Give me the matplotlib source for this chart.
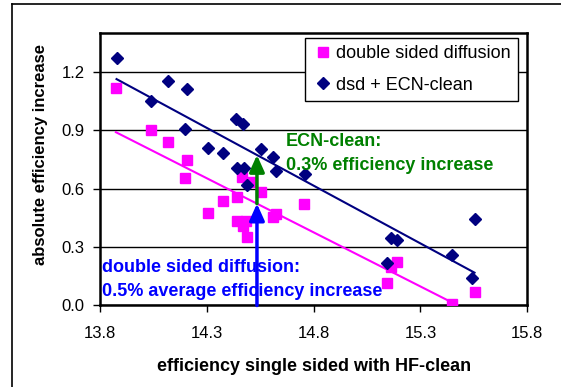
import numpy as np
import matplotlib
matplotlib.use("Agg")
import matplotlib.pyplot as plt
from matplotlib.lines import Line2D

plt.rcParams['font.family'] = ['Liberation Sans', 'DejaVu Sans']

# double sided diffusion (magenta squares)
dsd_x = [13.875, 14.037, 14.117, 14.206, 14.198, 14.304, 14.374, 14.440, 14.440, 14.482,
         14.471, 14.487, 14.464, 14.514, 14.555, 14.609, 14.624, 14.755, 15.190, 15.164,
         15.142, 15.448, 15.553]
dsd_y = [1.117, 0.900, 0.840, 0.748, 0.652, 0.473, 0.536, 0.558, 0.435, 0.435,
         0.409, 0.353, 0.660, 0.632, 0.581, 0.455, 0.469, 0.519, 0.225, 0.199,
         0.114, 0.006, 0.068]

# dsd + ECN-clean (navy diamonds)
ecn_x = [13.878, 14.037, 14.117, 14.206, 14.198, 14.304, 14.374, 14.437, 14.468, 14.552,
         14.440, 14.476, 14.487, 14.612, 14.624, 14.760, 15.161, 15.192, 15.142, 15.449,
         15.553, 15.541]
ecn_y = [1.268, 1.050, 1.150, 1.109, 0.907, 0.809, 0.784, 0.956, 0.931, 0.804,
         0.703, 0.703, 0.618, 0.760, 0.691, 0.674, 0.348, 0.336, 0.216, 0.259,
         0.445, 0.139]

arrow_x = 14.535

fig = plt.figure(figsize=(5.61, 3.87), dpi=100)
ax = fig.add_axes([0.178, 0.2106, 0.762, 0.705])

# trend lines
p_dsd = np.polyfit(dsd_x, dsd_y, 1)
p_ecn = np.polyfit(ecn_x, ecn_y, 1)
xx_dsd = np.array([min(dsd_x), max(dsd_x)])
xx_ecn = np.array([min(ecn_x), max(ecn_x)])
ax.plot(xx_dsd, np.polyval(p_dsd, xx_dsd), color='#ff00ff', lw=1.5, zorder=3)
ax.plot(xx_ecn, np.polyval(p_ecn, xx_ecn), color='#000080', lw=1.5, zorder=3)

ax.plot(dsd_x, dsd_y, 's', color='#ff00ff', ms=6.5, mec='#ff00ff', ls='none',
        label='double sided diffusion', zorder=4)
ax.plot(ecn_x, ecn_y, 'D', color='#000080', ms=6, mec='#000080', ls='none',
        label='dsd + ECN-clean', zorder=4)

y_dsd = np.polyval(p_dsd, arrow_x)
y_ecn = np.polyval(p_ecn, arrow_x)
ax.annotate('', xy=(arrow_x, y_dsd), xytext=(arrow_x, 0),
            arrowprops=dict(arrowstyle='-|>,head_width=0.45,head_length=1.0',
                            color='#0000ff', lw=2.5, shrinkA=0, shrinkB=0), zorder=6)
ax.annotate('', xy=(arrow_x, y_ecn), xytext=(arrow_x, y_dsd),
            arrowprops=dict(arrowstyle='-|>,head_width=0.45,head_length=1.0',
                            color='#008000', lw=2.5, shrinkA=0, shrinkB=0), zorder=6)

ax.text(14.671, 0.8195, 'ECN-clean:', color='#008000', fontsize=13,
        fontweight='bold', va='baseline', ha='left', zorder=5)
ax.text(14.671, 0.695, '0.3% efficiency increase', color='#008000', fontsize=13,
        fontweight='bold', va='baseline', ha='left', zorder=5)
ax.text(13.811, 0.1733, 'double sided diffusion:', color='#0000ff', fontsize=13,
        fontweight='bold', va='baseline', ha='left', zorder=5)
ax.text(13.811, 0.0487, '0.5% average efficiency increase', color='#0000ff', fontsize=13,
        fontweight='bold', va='baseline', ha='left', zorder=5)

ax.set_xlim(13.8, 15.8)
ax.set_ylim(0, 1.4)
ax.set_xticks([13.8, 14.3, 14.8, 15.3, 15.8])
ax.set_yticks([0.0, 0.3, 0.6, 0.9, 1.2])
ax.xaxis.set_major_formatter(matplotlib.ticker.FormatStrFormatter('%.1f'))
ax.yaxis.set_major_formatter(matplotlib.ticker.FormatStrFormatter('%.1f'))
ax.tick_params(direction='out', length=5, width=1, labelsize=12, colors='black', pad=6)
ax.tick_params(axis='x', pad=10)
ax.grid(axis='y', color='black', lw=1)
ax.set_axisbelow(True)
for s in ax.spines.values():
    s.set_linewidth(1.8)

ax.set_xlabel('efficiency single sided with HF-clean', fontsize=13, fontweight='bold', labelpad=12)
ax.set_ylabel('absolute efficiency increase', fontsize=12, fontweight='bold')
ax.yaxis.set_label_coords(-0.122, 0.555)

leg = ax.legend(loc='upper right', bbox_to_anchor=(0.978, 0.9806), borderaxespad=0,
                fontsize=13, frameon=True, fancybox=False, edgecolor='black', framealpha=1,
                handletextpad=0.1, handlelength=1.2, borderpad=0.4, labelspacing=0.8)
leg.get_frame().set_linewidth(1)

# outer chart border (left and top visible)
fig.add_artist(Line2D([12 / 561, 12 / 561], [0, 1 - 4 / 387], color='black', lw=1.2))
fig.add_artist(Line2D([12 / 561, 1], [1 - 4 / 387, 1 - 4 / 387], color='black', lw=1.2))

fig.savefig('out.png', dpi=100)
